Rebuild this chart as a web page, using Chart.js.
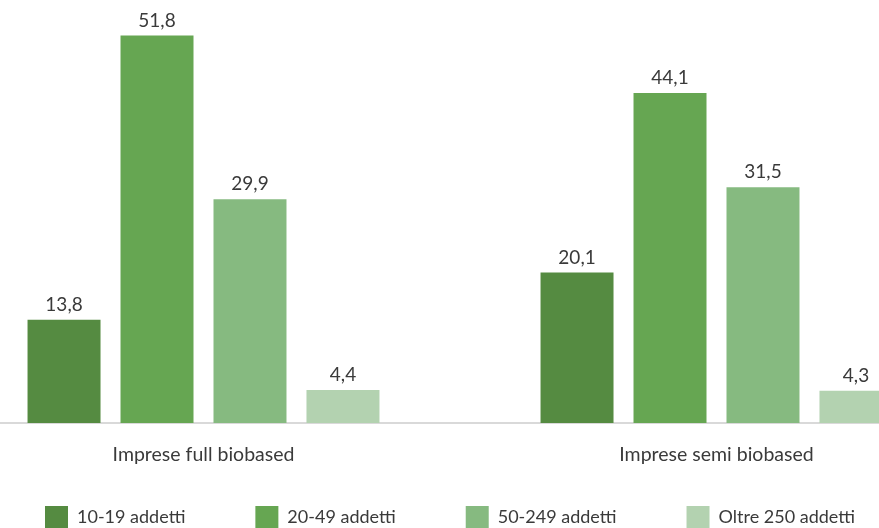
<!DOCTYPE html>
<html>
<head>
<meta charset="utf-8">
<script src="https://cdn.jsdelivr.net/npm/chart.js@4"></script>
<style>
  html, body { margin: 0; padding: 0; background: #fff; overflow: hidden; }
  body { width: 879px; height: 528px; position: relative; }
  #wrap { position: absolute; left: -73px; top: 0; width: 1046px; height: 539px; }
</style>
</head>
<body>
<div id="wrap"><canvas id="chart"></canvas></div>
<script>
const categories = ['Imprese full biobased', 'Imprese semi biobased'];
const seriesNames = ['10-19 addetti', '20-49 addetti', '50-249 addetti', 'Oltre 250 addetti'];
const addetti10_19 = [13.8, 20.1];
const addetti20_49 = [51.8, 44.1];
const addetti50_249 = [29.9, 31.5];
const oltre250 = [4.4, 4.3];

const colors = ['#558B41', '#66A652', '#86BA80', '#B3D2B0'];
const FONT = 'Lato, "Open Sans", sans-serif';

// value labels above each bar, Italian decimal comma
const valueLabels = {
  id: 'valueLabels',
  afterDatasetsDraw(chart) {
    const ctx = chart.ctx;
    ctx.save();
    ctx.font = '19px ' + FONT;
    ctx.fillStyle = '#3a3a3a';
    ctx.textAlign = 'center';
    ctx.textBaseline = 'middle';
    chart.data.datasets.forEach((ds, i) => {
      chart.getDatasetMeta(i).data.forEach((bar, j) => {
        ctx.fillText(ds.data[j].toFixed(1).replace('.', ','), bar.x, bar.y - 15);
      });
    });
    ctx.restore();
  }
};

const seriesData = [addetti10_19, addetti20_49, addetti50_249, oltre250];

new Chart(document.getElementById('chart'), {
  type: 'bar',
  data: {
    labels: categories,
    datasets: seriesData.map((d, i) => ({
      label: seriesNames[i],
      data: d,
      backgroundColor: colors[i],
      categoryPercentage: 0.725,
      barPercentage: 0.785
    }))
  },
  options: {
    responsive: true,
    maintainAspectRatio: false,
    animation: false,
    layout: { padding: { top: 4, left: 0, right: 0, bottom: 0 } },
    scales: {
      x: {
        grid: { display: false },
        border: { display: true, color: '#D9D9D9', width: 2 },
        // mirror keeps the labels from being clipped to the squeezed axis box
        ticks: { color: '#3a3a3a', font: { family: FONT, size: 19.5 }, padding: -43, mirror: true },
        afterFit: s => { s.height = 13; }
      },
      y: {
        // invisible, only there to nudge the legend left of the plot centre
        display: true,
        min: 0,
        max: 56,
        grid: { display: false },
        border: { display: false },
        ticks: { display: false },
        afterFit: s => { s.width = 20; }
      }
    },
    plugins: {
      tooltip: { enabled: false },
      legend: {
        position: 'bottom',
        labels: {
          boxWidth: 23,
          boxHeight: 23,
          padding: 70,
          color: '#3a3a3a',
          font: { family: FONT, size: 18 }
        }
      }
    }
  },
  plugins: [valueLabels]
});
</script>
</body>
</html>
